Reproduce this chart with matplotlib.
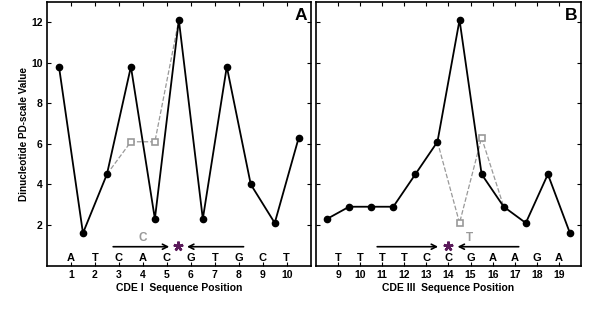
import matplotlib
matplotlib.use("Agg")
import matplotlib.pyplot as plt

plt.rcParams['font.family'] = ['Liberation Sans', 'DejaVu Sans']
plt.rcParams['font.weight'] = 'bold'

# Panel A (CDE I)
a_x = [0.5, 1.5, 2.5, 3.5, 4.5, 5.5, 6.5, 7.5, 8.5, 9.5, 10.5]
a_y = [9.8, 1.6, 4.5, 9.8, 2.3, 12.1, 2.3, 9.8, 4.0, 2.1, 6.3]
a_mut_x = [2.5, 3.5, 4.5, 5.5]
a_mut_y = [4.5, 6.1, 6.1, 12.1]
a_sq_x = [3.5, 4.5]
a_sq_y = [6.1, 6.1]
a_ticks = [1, 2, 3, 4, 5, 6, 7, 8, 9, 10]
a_letters = ['A', 'T', 'C', 'A', 'C', 'G', 'T', 'G', 'C', 'T']

# Panel B (CDE III)
b_x = [8.5, 9.5, 10.5, 11.5, 12.5, 13.5, 14.5, 15.5, 16.5, 17.5, 18.5, 19.5]
b_y = [2.3, 2.9, 2.9, 2.9, 4.5, 6.1, 12.1, 4.5, 2.9, 2.1, 4.5, 1.6]
b_mut_x = [13.5, 14.5, 15.5, 16.5]
b_mut_y = [6.1, 2.1, 6.3, 2.9]
b_sq_x = [14.5, 15.5]
b_sq_y = [2.1, 6.3]
b_ticks = [9, 10, 11, 12, 13, 14, 15, 16, 17, 18, 19]
b_letters = ['T', 'T', 'T', 'T', 'C', 'C', 'G', 'A', 'A', 'G', 'A']

GRAY = '#999999'
PURPLE = '#5a1a5a'

fig = plt.figure(figsize=(6, 3.2), dpi=100)
axA = fig.add_axes([47/600, 1-265.6/320, (310.7-47)/600, (265.6-1.7)/320])
axB = fig.add_axes([316/600, 1-265.6/320, (581-316)/600, (265.6-1.7)/320])

def style(ax, ticks, xlim, show_y):
    ax.set_xlim(*xlim)
    ax.set_ylim(0, 13)
    ax.set_xticks(ticks)
    ax.set_yticks([2, 4, 6, 8, 10, 12])
    ax.tick_params(direction='in', top=True, right=True, length=3, width=0.8,
                   labelsize=7.5, pad=3, labelleft=show_y)
    for lab in ax.get_xticklabels() + ax.get_yticklabels():
        lab.set_fontweight('bold')
    for s in ax.spines.values():
        s.set_linewidth(1.2)

def draw(ax, x, y, mx, my, sx, sy, ticks, letters):
    ax.plot(mx, my, '--', color=GRAY, lw=0.9, zorder=2)
    ax.plot(sx, sy, 's', mfc='white', mec=GRAY, mew=1.2, ms=5, ls='none', zorder=3)
    ax.plot(x, y, '-', color='black', lw=1.3, marker='o', ms=4.5, zorder=4)
    for t, l in zip(ticks, letters):
        ax.text(t, 0.39, l, ha='center', va='center', fontsize=8, fontweight='bold')

draw(axA, a_x, a_y, a_mut_x, a_mut_y, a_sq_x, a_sq_y, a_ticks, a_letters)
draw(axB, b_x, b_y, b_mut_x, b_mut_y, b_sq_x, b_sq_y, b_ticks, b_letters)
style(axA, a_ticks, (0, 11), True)
style(axB, b_ticks, (8, 20), False)

def arrow(ax, x0, x1, y=0.93):
    ax.annotate('', xy=(x1, y), xytext=(x0, y),
                arrowprops=dict(arrowstyle='->', color='black', lw=1.2,
                                shrinkA=0, shrinkB=0, mutation_scale=9))

def star(ax, x, y=0.97):
    ax.plot([x], [y], marker=(5, 2, 0), ms=7, mew=1.8, color=PURPLE, ls='none', zorder=5)

arrow(axA, 2.76, 5.1)
arrow(axA, 8.2, 5.84)
star(axA, 5.47)
axA.text(4.0, 1.35, 'C', ha='center', va='center', fontsize=8.5, color=GRAY, fontweight='bold')

arrow(axB, 10.77, 13.53)
arrow(axB, 17.18, 14.41)
star(axB, 13.97)
axB.text(14.97, 1.35, 'T', ha='center', va='center', fontsize=8.5, color=GRAY, fontweight='bold')

axA.text(0.985, 0.975, 'A', transform=axA.transAxes, ha='right', va='top', fontsize=12.5, fontweight='bold')
axB.text(0.985, 0.975, 'B', transform=axB.transAxes, ha='right', va='top', fontsize=12.5, fontweight='bold')

axA.set_ylabel('Dinucleotide PD-scale Value', fontsize=7.2, fontweight='bold', labelpad=2)
axA.set_xlabel('CDE I  Sequence Position', fontsize=7.5, fontweight='bold', labelpad=2)
axB.set_xlabel('CDE III  Sequence Position', fontsize=7.5, fontweight='bold', labelpad=2)

fig.savefig('out.png', dpi=100)
